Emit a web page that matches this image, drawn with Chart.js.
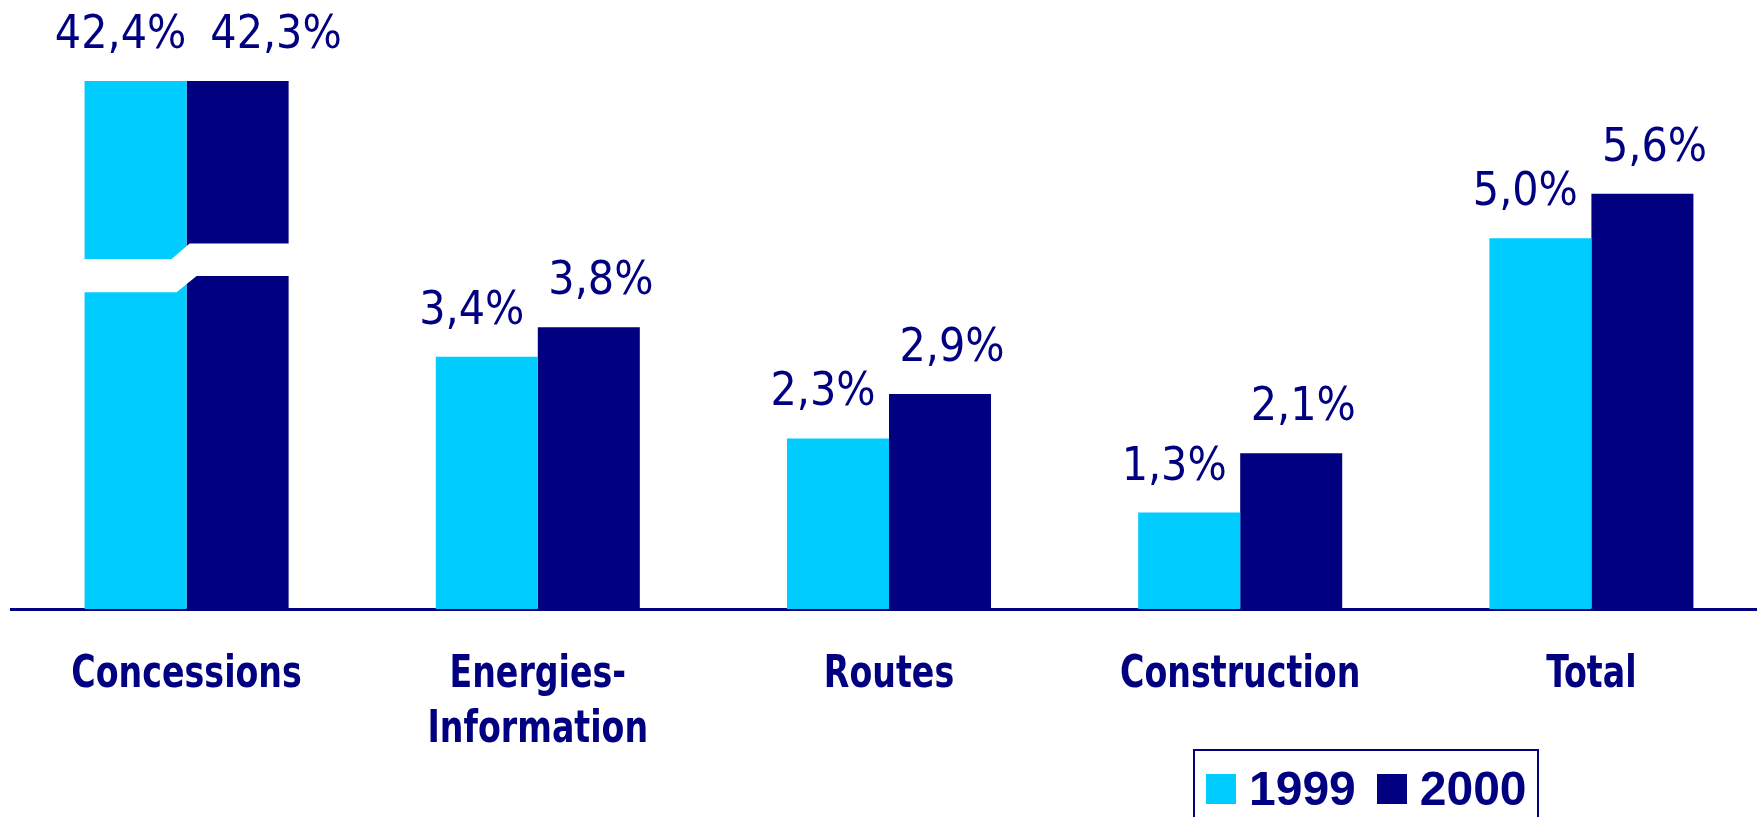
<!DOCTYPE html>
<html lang="fr">
<head>
  <meta charset="UTF-8">
  <script src="https://cdn.jsdelivr.net/npm/chart.js"></script>
  <title>Marge par pôle</title>
  <style>
    body{margin: 0; overflow: hidden; background: #fff;}
    #wrap{position: relative; width: 1770px; height: 817px;}
    #legend{position: absolute; left: 1193px; top: 749px; width: 346px; height: 120px;
      border: 2px solid #000080; display: flex; align-items: flex-start; padding: 18px 0 0 11px; box-sizing: border-box;}
    #legend .item{display: flex; align-items: center; margin-right: 21px;}
    #legend .box{width: 30px; height: 30px; margin-right: 13px;}
    #legend .txt{font: bold 48px "Liberation Sans", Arial, sans-serif; color: #000080; line-height: 40px;}
  </style>
  <script>
    // données
    const categories = ['Concessions', ['Energies-', 'Information'], 'Routes', 'Construction', 'Total'];
    const seriesNames = ['1999', '2000'];
    const values1999 = [42.4, 3.4, 2.3, 1.3, 5.0];
    const values2000 = [42.3, 3.8, 2.9, 2.1, 5.6];
    const colors = ['#00CCFF', '#000080'];
    const yMax = 7.12;           // haut de l'axe, la barre Concessions est coupée
    const breakBand = [4.27, 4.72, 4.49, 4.93]; // bas/haut de la coupure (1999, 2000)

    const navy = '#000080';

    // étiquettes au dessus des barres
    const valueLabels = {
      id: 'valueLabels',
      afterDatasetsDraw(chart){
        const ctx = chart.ctx;
        const top = chart.chartArea.top;
        ctx.save();
        ctx.font = '46px "DejaVu Sans Condensed", "DejaVu Sans", sans-serif';
        ctx.fillStyle = navy;
        ctx.textAlign = 'center';
        ctx.textBaseline = 'alphabetic';
        const m0 = chart.getDatasetMeta(0), m1 = chart.getDatasetMeta(1);
        for(let i=0;i<categories.length;i++){
          const b0 = m0.data[i], b1 = m1.data[i];
          const t0 = (values1999[i]).toFixed(1).replace('.', ',') + '%';
          const t1 = (values2000[i]).toFixed(1).replace('.', ',') + '%';
          const w0 = ctx.measureText(t0).width, w1 = ctx.measureText(t1).width;
          let x0 = b0.x - 15;
          let x1 = b1.x;
          if(x1 - w1/2 < x0 + w0/2 + 24) x1 = x0 + w0/2 + 24 + w1/2;
          ctx.fillText(t0, x0, Math.max(b0.y, top) - 33);
          ctx.fillText(t1, x1, Math.max(b1.y, top) - 33);
        }
        // coupure de la barre Concessions
        const y = chart.scales.y;
        const a = m0.data[0], b = m1.data[0];
        const l = a.x - a.width/2 - 1, r = b.x + b.width/2 + 1, mid = a.x + a.width/2;
        ctx.fillStyle = '#fff';
        ctx.beginPath();
        ctx.moveTo(l, y.getPixelForValue(breakBand[1]));
        ctx.lineTo(mid - 15, y.getPixelForValue(breakBand[1]));
        ctx.lineTo(mid + 3, y.getPixelForValue(breakBand[3]));
        ctx.lineTo(r, y.getPixelForValue(breakBand[3]));
        ctx.lineTo(r, y.getPixelForValue(breakBand[2]));
        ctx.lineTo(mid + 10, y.getPixelForValue(breakBand[2]));
        ctx.lineTo(mid - 10, y.getPixelForValue(breakBand[0]));
        ctx.lineTo(l, y.getPixelForValue(breakBand[0]));
        ctx.closePath();
        ctx.fill();
        ctx.restore();
      }
    };

    // noms des pôles, police étroite (resserrée)
    const catLabels = {
      id: 'catLabels',
      afterDraw(chart){
        const ctx = chart.ctx;
        const xs = chart.scales.x;
        ctx.save();
        ctx.font = 'bold 44px "DejaVu Sans Condensed", "DejaVu Sans", sans-serif';
        ctx.fillStyle = navy;
        ctx.textAlign = 'center';
        ctx.textBaseline = 'alphabetic';
        categories.forEach(function(lab, i){
          const lines = Array.isArray(lab) ? lab : [lab];
          const px = xs.getPixelForTick(i);
          lines.forEach(function(t, j){
            ctx.save();
            ctx.translate(px, xs.top + 78 + j * 55);
            ctx.scale(0.84, 1);
            ctx.fillText(t, 0, 0);
            ctx.restore();
          });
        });
        ctx.restore();
      }
    };

    window.onload = function(){
      const ctx = document.getElementById('myChart');
      const chart = new Chart(ctx, {
        type: 'bar',
        data: {
          labels: categories,
          datasets: [
            {label: seriesNames[0], data: values1999, backgroundColor: colors[0], clip: 0},
            {label: seriesNames[1], data: values2000, backgroundColor: colors[1], clip: 0}
          ]
        },
        options: {
          responsive: true,
          maintainAspectRatio: false,
          animation: false,
          layout: {padding: {top: 81, left: 11, right: 3, bottom: 0}},
          datasets: {bar: {barPercentage: 1, categoryPercentage: 0.581}},
          plugins: {legend: {display: false}, tooltip: {enabled: false}},
          scales: {
            x: {
              grid: {display: false},
              border: {display: true, color: navy, width: 3},
              ticks: {display: false},
              afterFit(scale){ scale.height = 208; }
            },
            y: {display: false, min: 0, max: yMax}
          }
        },
        plugins: [valueLabels, catLabels]
      });

      // légende
      const lg = document.getElementById('legend');
      chart.data.datasets.forEach(function(ds){
        const it = document.createElement('div');
        it.className = 'item';
        it.innerHTML = '<span class="box" style="background:' + ds.backgroundColor + '"></span><span class="txt">' + ds.label + '</span>';
        lg.appendChild(it);
      });
    };
  </script>
</head>
<body>
  <div id="wrap">
    <canvas id="myChart"></canvas>
    <div id="legend"></div>
  </div>
</body>
</html>
